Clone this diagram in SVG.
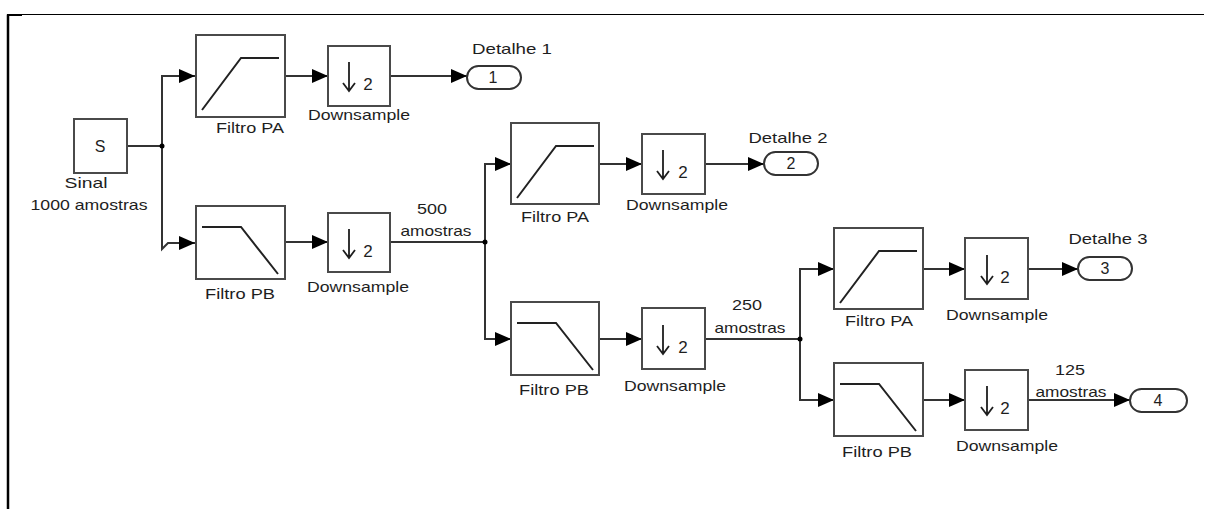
<svg xmlns="http://www.w3.org/2000/svg" width="1205" height="509" viewBox="0 0 1205 509">
<style>
.blk{fill:#fff;stroke:#4a4a4a;stroke-width:2}
.crv{fill:none;stroke:#222;stroke-width:2}
.ln{fill:none;stroke:#333;stroke-width:2;marker-end:url(#ah)}
.ln0{fill:none;stroke:#333;stroke-width:2}
.port{fill:#fff;stroke:#333;stroke-width:2}
.dnar{fill:none;stroke:#1e1e1e;stroke-width:1.8}
.t{font-family:"Liberation Sans",Arial,sans-serif;font-size:15px;fill:#1e1e1e;text-anchor:middle}
.n{font-family:"Liberation Sans",Arial,sans-serif;font-size:16px;fill:#1e1e1e;text-anchor:middle}
.two{font-family:"Liberation Sans",Arial,sans-serif;font-size:17px;fill:#1e1e1e;text-anchor:middle}
</style>
<defs>
<marker id="ah" markerUnits="userSpaceOnUse" markerWidth="16" markerHeight="14" refX="16" refY="7" orient="auto"><path d="M0,0 L16,7 L0,14 z" fill="#000"/></marker>
<path id="pa" class="crv" d="M6,75 L45,23 L83,23"/>
<path id="pb" class="crv" d="M6,21 L45,21 L82,68"/>
<path id="dn" class="dnar" d="M0,0 V29 M-6,21 L0,29 L6,21"/>
</defs>
<rect width="1205" height="509" fill="#fff"/>
<g id="frame">
<path d="M8,509 V14.5 H1204" fill="none" stroke="#000" stroke-width="1.2"/>
<path d="M8,509 V14.5" fill="none" stroke="#000" stroke-width="2.5"/>
<path d="M7,15 H22" fill="none" stroke="#000" stroke-width="2"/>
</g>
<g id="connectors">
<path class="ln0" d="M127,146 H162"/>
<path class="ln" d="M162,146 V76 H195"/>
<path class="ln" d="M162,146 V249 L168,243 H195"/>
<path class="ln" d="M285,76 H328"/>
<path class="ln" d="M390,76 H467"/>
<path class="ln" d="M285,242 H328"/>
<path class="ln0" d="M390,242 H485"/>
<path class="ln" d="M485,242 V164 H511"/>
<path class="ln" d="M485,242 V339 H511"/>
<path class="ln" d="M599,164 H642"/>
<path class="ln" d="M705,164 H764"/>
<path class="ln" d="M599,339 H642"/>
<path class="ln0" d="M705,339 H800"/>
<path class="ln" d="M800,339 V269 H834"/>
<path class="ln" d="M800,339 V400 H834"/>
<path class="ln" d="M923,269 H965"/>
<path class="ln" d="M1028,269 H1078"/>
<path class="ln" d="M923,400 H965"/>
<path class="ln" d="M1028,400 H1130"/>
<circle cx="162" cy="146" r="2.5" fill="#000"/>
<circle cx="485" cy="242" r="2.5" fill="#000"/>
<circle cx="800" cy="339" r="2.5" fill="#000"/>
<text class="t" x="432" y="214" textLength="30" lengthAdjust="spacingAndGlyphs">500</text>
<text class="t" x="436" y="236" textLength="71" lengthAdjust="spacingAndGlyphs">amostras</text>
<text class="t" x="747" y="310" textLength="30" lengthAdjust="spacingAndGlyphs">250</text>
<text class="t" x="750" y="333" textLength="71" lengthAdjust="spacingAndGlyphs">amostras</text>
<text class="t" x="1070" y="375" textLength="30" lengthAdjust="spacingAndGlyphs">125</text>
<text class="t" x="1071" y="397" textLength="71" lengthAdjust="spacingAndGlyphs">amostras</text>
</g>
<g id="sinal">
<rect class="blk" x="74" y="119" width="53" height="54"/>
<text class="n" x="100" y="152">S</text>
<text class="t" x="86" y="188" textLength="43" lengthAdjust="spacingAndGlyphs">Sinal</text>
<text class="t" x="89" y="210" textLength="117" lengthAdjust="spacingAndGlyphs">1000 amostras</text>
</g>
<g id="pa1">
<rect class="blk" x="196" y="35" width="89" height="82"/>
<use href="#pa" x="196" y="35"/>
<text class="t" x="250" y="133" textLength="68" lengthAdjust="spacingAndGlyphs">Filtro PA</text>
</g>
<g id="ds1">
<rect class="blk" x="328" y="46" width="62" height="60"/>
<use href="#dn" x="349" y="62"/>
<text class="two" x="368" y="90">2</text>
<text class="t" x="359" y="120" textLength="102" lengthAdjust="spacingAndGlyphs">Downsample</text>
</g>
<g id="out1">
<rect class="port" x="467" y="66" width="54" height="23" rx="11.5"/>
<text class="n" x="493" y="83">1</text>
<text class="t" x="512" y="54" textLength="80" lengthAdjust="spacingAndGlyphs">Detalhe 1</text>
</g>
<g id="pb1">
<rect class="blk" x="196" y="206" width="89" height="73"/>
<use href="#pb" x="196" y="206"/>
<text class="t" x="240" y="299" textLength="70" lengthAdjust="spacingAndGlyphs">Filtro PB</text>
</g>
<g id="ds2">
<rect class="blk" x="328" y="213" width="62" height="59"/>
<use href="#dn" x="349" y="229"/>
<text class="two" x="368" y="257">2</text>
<text class="t" x="358" y="292" textLength="102" lengthAdjust="spacingAndGlyphs">Downsample</text>
</g>
<g id="pa2">
<rect class="blk" x="511" y="123" width="88" height="81"/>
<use href="#pa" x="511" y="123"/>
<text class="t" x="555" y="222" textLength="68" lengthAdjust="spacingAndGlyphs">Filtro PA</text>
</g>
<g id="ds3">
<rect class="blk" x="642" y="134" width="63" height="60"/>
<use href="#dn" x="663" y="150"/>
<text class="two" x="683" y="178">2</text>
<text class="t" x="677" y="210" textLength="102" lengthAdjust="spacingAndGlyphs">Downsample</text>
</g>
<g id="out2">
<rect class="port" x="764" y="152" width="54" height="23" rx="11.5"/>
<text class="n" x="791" y="169">2</text>
<text class="t" x="788" y="143" textLength="79" lengthAdjust="spacingAndGlyphs">Detalhe 2</text>
</g>
<g id="pb2">
<rect class="blk" x="511" y="302" width="88" height="73"/>
<use href="#pb" x="511" y="302"/>
<text class="t" x="554" y="395" textLength="70" lengthAdjust="spacingAndGlyphs">Filtro PB</text>
</g>
<g id="ds4">
<rect class="blk" x="642" y="308" width="63" height="61"/>
<use href="#dn" x="663" y="325"/>
<text class="two" x="683" y="353">2</text>
<text class="t" x="675" y="391" textLength="102" lengthAdjust="spacingAndGlyphs">Downsample</text>
</g>
<g id="pa3">
<rect class="blk" x="834" y="228" width="89" height="81"/>
<use href="#pa" x="834" y="228"/>
<text class="t" x="879" y="326" textLength="68" lengthAdjust="spacingAndGlyphs">Filtro PA</text>
</g>
<g id="ds5">
<rect class="blk" x="965" y="238" width="63" height="61"/>
<use href="#dn" x="987" y="255"/>
<text class="two" x="1005" y="283">2</text>
<text class="t" x="997" y="320" textLength="102" lengthAdjust="spacingAndGlyphs">Downsample</text>
</g>
<g id="out3">
<rect class="port" x="1078" y="257" width="54" height="23" rx="11.5"/>
<text class="n" x="1105" y="274">3</text>
<text class="t" x="1108" y="244" textLength="79" lengthAdjust="spacingAndGlyphs">Detalhe 3</text>
</g>
<g id="pb3">
<rect class="blk" x="834" y="363" width="89" height="73"/>
<use href="#pb" x="834" y="363"/>
<text class="t" x="877" y="457" textLength="70" lengthAdjust="spacingAndGlyphs">Filtro PB</text>
</g>
<g id="ds6">
<rect class="blk" x="965" y="370" width="63" height="60"/>
<use href="#dn" x="987" y="386"/>
<text class="two" x="1005" y="414">2</text>
<text class="t" x="1007" y="451" textLength="102" lengthAdjust="spacingAndGlyphs">Downsample</text>
</g>
<g id="out4">
<rect class="port" x="1130" y="389" width="57" height="23" rx="11.5"/>
<text class="n" x="1158" y="406">4</text>
</g>
</svg>
